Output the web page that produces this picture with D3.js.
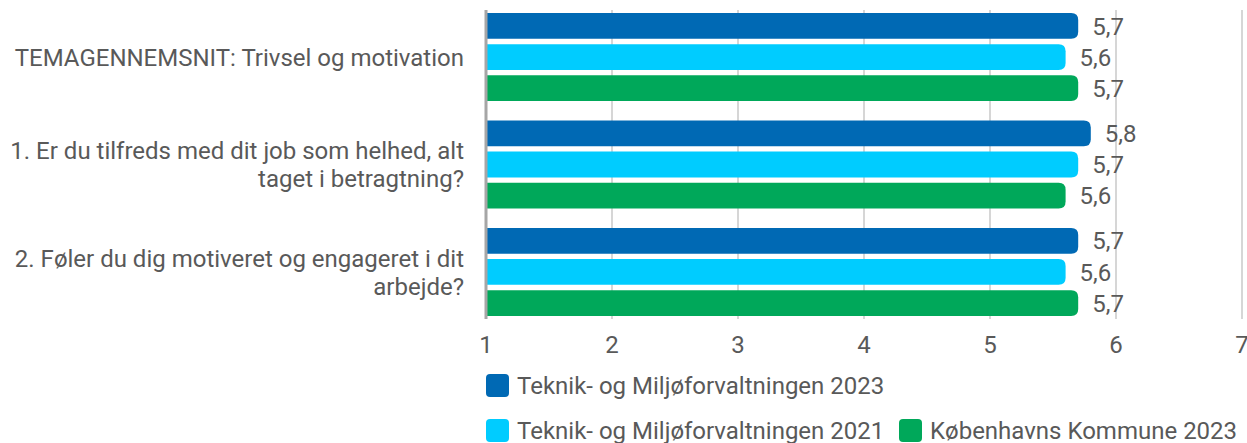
<!DOCTYPE html>
<html>
<head>
<meta charset="utf-8">
<script src="https://cdn.jsdelivr.net/npm/d3@7"></script>
<style>
    body { margin: 0; background: #fff; }
    .text { font-family: Roboto, "Noto Sans", sans-serif; fill: #595959; }
</style>
</head>
<body>
<div id="chart"></div>
<script>
// Chart data
const categories = [
    "TEMAGENNEMSNIT: Trivsel og motivation",
    "1. Er du tilfreds med dit job som helhed, alt taget i betragtning?",
    "2. Føler du dig motiveret og engageret i dit arbejde?"
];
const categoryLines = [
    ["TEMAGENNEMSNIT: Trivsel og motivation"],
    ["1. Er du tilfreds med dit job som helhed, alt", "taget i betragtning?"],
    ["2. Føler du dig motiveret og engageret i dit", "arbejde?"]
];
const seriesNames = [
    "Teknik- og Miljøforvaltningen 2023",
    "Teknik- og Miljøforvaltningen 2021",
    "Københavns Kommune 2023"
];
const tmf2023 = [5.7, 5.8, 5.7];
const tmf2021 = [5.6, 5.7, 5.6];
const kk2023 = [5.7, 5.6, 5.7];
const xTicks = [1, 2, 3, 4, 5, 6, 7];

const seriesValues = [tmf2023, tmf2021, kk2023];
const seriesColors = ["#0069b4", "#00ccff", "#00a85a"];

const width = 1247;
const height = 443;
const plotLeft = 486;
const plotRight = 1242;
const plotTop = 10;
const plotBottom = 319;
const fontSize = "24px";

const svg = d3.select("#chart")
    .append("svg")
    .attr("width", width)
    .attr("height", height);

// Scales
const xScale = d3.scaleLinear()
    .domain([1, 7])
    .range([plotLeft, plotRight]);

const yScale = d3.scaleBand()
    .domain(categories)
    .range([13, 316])
    .paddingInner(0.18)
    .paddingOuter(0);

const innerScale = d3.scaleBand()
    .domain(d3.range(seriesNames.length))
    .range([0, yScale.bandwidth()])
    .paddingInner(0.17);

// Gridlines (behind bars)
svg.append("g")
    .selectAll("line")
    .data(xTicks.slice(1))
    .join("line")
    .attr("x1", d => xScale(d))
    .attr("x2", d => xScale(d))
    .attr("y1", plotTop)
    .attr("y2", plotBottom)
    .attr("stroke", "#c8c8c8")
    .attr("stroke-width", 1.5);

// Bars with rounded right end
const barPath = (x0, x1, y0, h, r) => {
    const y1 = y0 + h;
    return `M${x0},${y0}H${x1 - r}Q${x1},${y0} ${x1},${y0 + r}V${y1 - r}Q${x1},${y1} ${x1 - r},${y1}H${x0}Z`;
};

const barData = [];
categories.forEach((c, ci) => {
    seriesValues.forEach((vals, si) => {
        barData.push({ cat: c, series: si, value: vals[ci] });
    });
});

svg.append("g")
    .selectAll("path")
    .data(barData)
    .join("path")
    .attr("d", d => barPath(xScale(1), xScale(d.value),
        yScale(d.cat) + innerScale(d.series), innerScale.bandwidth(), 7))
    .attr("fill", d => seriesColors[d.series]);

// Value labels
svg.append("g")
    .selectAll("text")
    .data(barData)
    .join("text")
    .attr("class", "text")
    .attr("x", d => xScale(d.value) + 14)
    .attr("y", d => yScale(d.cat) + innerScale(d.series) + innerScale.bandwidth() / 2)
    .attr("dy", "0.36em")
    .style("font-size", fontSize)
    .text(d => d3.format(".1f")(d.value).replace(".", ","));

// Left axis line
svg.append("line")
    .attr("x1", plotLeft)
    .attr("x2", plotLeft)
    .attr("y1", plotTop)
    .attr("y2", plotBottom)
    .attr("stroke", "#a6a6a6")
    .attr("stroke-width", 3);

// X tick labels
svg.append("g")
    .selectAll("text")
    .data(xTicks)
    .join("text")
    .attr("class", "text")
    .attr("x", d => xScale(d))
    .attr("y", 353)
    .attr("text-anchor", "middle")
    .style("font-size", fontSize)
    .text(d => d);

// Category labels
const catLabels = svg.append("g")
    .selectAll("text")
    .data(categories)
    .join("text")
    .attr("class", "text")
    .attr("text-anchor", "end")
    .style("font-size", fontSize);

catLabels.each(function (d, i) {
    const lines = categoryLines[i];
    const cy = yScale(d) + yScale.bandwidth() / 2;
    const lineHeight = 28;
    const startY = cy - (lines.length - 1) * lineHeight / 2;
    d3.select(this).selectAll("tspan")
        .data(lines)
        .join("tspan")
        .attr("x", 464)
        .attr("y", (l, j) => startY + j * lineHeight)
        .attr("dy", "0.36em")
        .text(l => l);
});

// Legend
const legendPos = [[486, 374], [486, 419], [899, 419]];
const legend = svg.append("g")
    .selectAll("g")
    .data(seriesNames)
    .join("g")
    .attr("transform", (d, i) => `translate(${legendPos[i][0]}, ${legendPos[i][1]})`);

legend.append("rect")
    .attr("width", 23)
    .attr("height", 23)
    .attr("rx", 4)
    .attr("fill", (d, i) => seriesColors[i]);

legend.append("text")
    .attr("class", "text")
    .attr("x", 31)
    .attr("y", 11.5)
    .attr("dy", "0.36em")
    .style("font-size", fontSize)
    .text(d => d);
</script>
</body>
</html>
